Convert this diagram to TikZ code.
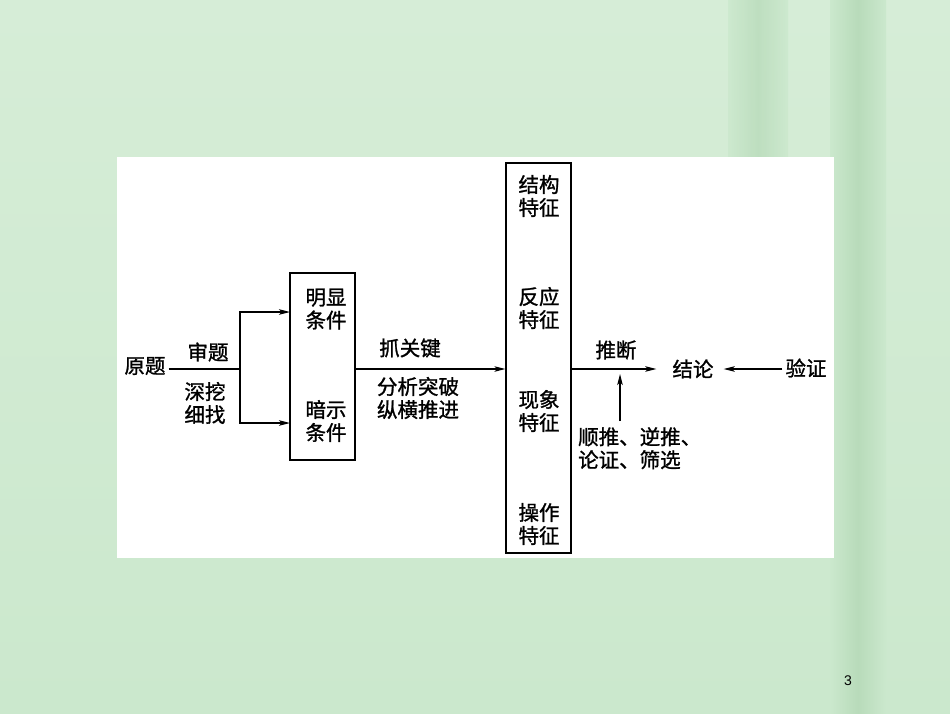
\documentclass[tikz,border=0pt]{standalone}
\usepackage{fontspec}
\newfontfamily\cjk[FakeBold=1.2,AutoFakeBold=false]{Noto Sans CJK SC}
\newfontfamily\arialf{Liberation Sans}
\usetikzlibrary{arrows.meta}
\definecolor{bggreen}{RGB}{203,232,205}
\definecolor{bgtop}{RGB}{214,237,215}
\definecolor{bamboo}{RGB}{184,219,186}
\tikzset{
  txt/.style={font=\cjk\fontsize{20.5}{23}\selectfont, align=center, inner sep=3pt},
  box/.style={draw, line width=1.2pt, fill=white, inner sep=0pt},
  conn/.style={line width=1.1pt},
  arr/.style={line width=1.1pt, -{Stealth[length=11pt,width=5.5pt,inset=2.5pt]}}
}
\begin{document}
\begin{tikzpicture}[x=1pt,y=-1pt]
\useasboundingbox (0,0) rectangle (950,713);
\shade[top color=bgtop, bottom color=bggreen] (0,0) rectangle (950,713);
\shade[left color=bggreen, right color=bggreen, middle color=bamboo, opacity=0.8] (728,0) rectangle (788,220);
\shade[left color=bggreen, right color=bggreen, middle color=bamboo] (830,0) rectangle (886,713);
\fill[white] (117,157) rectangle (834,558);
% left part
\node[txt] (yuanti) at (145,366) {原题};
\node[txt] (shenti) at (208,352) {审题};
\node[txt] (shenwa) at (205,403) {深挖\\细找};
\node[box, minimum width=65pt, minimum height=187pt] (box1) at (322.5,366.5) {};
\node[txt] (mingxian) at (326,309) {明显\\条件};
\node[txt] (anshi) at (326,421) {暗示\\条件};
\coordinate (j) at (240,369);
\coordinate (a1) at (290,312);
\coordinate (a2) at (290,423);
\draw[conn] (yuanti.east |- j) -- (j);
\draw[arr] (j) |- (a1);
\draw[arr] (j) |- (a2);
% middle
\node[txt] (zhua) at (410,348) {抓关键};
\node[txt] (fenxi) at (418,398) {分析突破\\纵横推进};
\node[box, minimum width=65pt, minimum height=390pt] (box2) at (538.5,358) {};
\node[txt] (jiegou) at (539,196) {结构\\特征};
\node[txt] (fanying) at (539,308) {反应\\特征};
\node[txt] (xianxiang) at (539,411) {现象\\特征};
\node[txt] (caozuo) at (539,524) {操作\\特征};
\draw[arr] (box1.east |- j) -- (box2.west |- j);
% right part
\node[txt] (tuiduan) at (616,350) {推断};
\node[txt] (jielun) at (693,369) {结论};
\node[txt] (yanzheng) at (806,368) {验证};
\node[txt, align=left, anchor=north west, inner sep=0pt] (methods) at (578,427) {顺推、逆推、\\论证、筛选};
\draw[arr, shorten >=13pt] (box2.east |- j) -- (jielun.west |- j);
\coordinate (mb) at (620,421);
\coordinate (mt) at (620,374);
\draw[arr] (mb) -- (mt);
\draw[arr, shorten >=7pt] (yanzheng.west |- j) -- (jielun.east |- j);
\node[font=\arialf\fontsize{14}{16}\selectfont] (page) at (848,681) {3};
\end{tikzpicture}
\end{document}
